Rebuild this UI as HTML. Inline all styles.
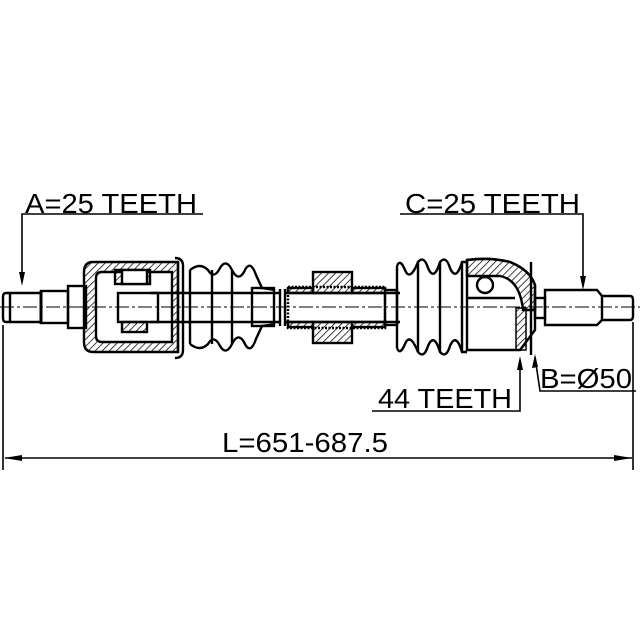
<!DOCTYPE html>
<html><head><meta charset="utf-8"><style>
html,body{margin:0;padding:0;background:#fff}
svg{display:block}
text{font-family:"Liberation Sans",sans-serif;font-size:28px;fill:#000}
</style></head><body>
<svg width="640" height="640" viewBox="0 0 640 640" xmlns="http://www.w3.org/2000/svg">
<defs>
<pattern id="h" width="5" height="5" patternUnits="userSpaceOnUse" patternTransform="rotate(45)">
<line x1="0" y1="0" x2="0" y2="5" stroke="#000" stroke-width="1.5"/></pattern>
</defs>
<g fill="none" stroke="#000" stroke-width="2.4">
<path d="M6 293 H41 V322 H6 Q3 322 3 318 V297 Q3 293 6 293Z"/>
<line x1="10" y1="293" x2="10" y2="322"/>
<line x1="41" y1="291" x2="41" y2="324" stroke-width="3"/>
<rect x="41" y="291" width="27" height="32"/>
<rect x="68" y="286" width="18" height="42"/>
<path d="M93 262 H178 V352 H93 Q84 352 84 342 V272 Q84 262 93 262Z" fill="url(#h)"/>
<path d="M102 272 H172 V342 H102 Q96 342 96 336 V278 Q96 272 102 272Z" fill="#fff"/>
<rect x="115" y="270" width="35" height="14" fill="url(#h)"/>
<rect x="122" y="270" width="25" height="14" fill="#fff"/>
<rect x="118" y="293" width="40" height="29" fill="#fff"/>
<rect x="122" y="322" width="25" height="10" fill="url(#h)"/>
<path d="M175 258 Q183 258 183 266 V350 Q183 358 175 358"/>
<line x1="178" y1="262" x2="178" y2="352"/>
<path d="M190 270 Q200 262 208 270 Q214 280 220 268 Q226 258 232 270 Q238 282 244 272 Q250 258 256 275 L262 288 L275 290"/>
<path d="M190 344 Q200 352 208 344 Q214 334 220 346 Q226 356 232 344 Q238 332 244 342 Q250 356 256 339 L262 326 L275 324"/>
<line x1="190" y1="270" x2="190" y2="344"/>
<line x1="212" y1="270" x2="212" y2="344"/><line x1="232" y1="270" x2="232" y2="344"/>
<rect x="252" y="288" width="22" height="38"/>
<line x1="150" y1="293" x2="280" y2="293"/><line x1="150" y1="322" x2="280" y2="322"/>
<line x1="285" y1="293" x2="400" y2="293"/><line x1="285" y1="322" x2="400" y2="322"/>
<line x1="280" y1="289" x2="280" y2="326"/><line x1="285" y1="289" x2="285" y2="326"/>
<rect x="288" y="287" width="97" height="41" stroke-dasharray="2 1.5"/>
<rect x="313" y="272" width="39" height="21" fill="url(#h)"/>
<rect x="313" y="322" width="39" height="21" fill="url(#h)"/>
<rect x="288" y="288" width="25" height="5" fill="url(#h)"/><rect x="352" y="288" width="33" height="5" fill="url(#h)"/>
<rect x="288" y="322" width="25" height="5" fill="url(#h)"/><rect x="352" y="322" width="33" height="5" fill="url(#h)"/>
<rect x="385" y="290" width="12" height="35"/>
<path d="M397 266 Q400 258 405 270 Q410 282 418 262 Q424 255 428 268 Q434 282 440 262 Q446 255 450 268 Q456 282 462 262 L467 262"/>
<path d="M397 348 Q400 356 405 344 Q410 332 418 352 Q424 359 428 346 Q434 332 440 352 Q446 359 450 346 Q456 332 462 352 L467 352"/>
<line x1="397" y1="266" x2="397" y2="348"/>
<line x1="418" y1="262" x2="418" y2="352"/><line x1="440" y1="262" x2="440" y2="352"/>
<line x1="462" y1="262" x2="462" y2="352"/>
<path d="M467 260 Q490 257 510 262 Q530 270 535 285 V330 L520 350 H467Z" fill="#fff"/>
<path d="M467 260 Q490 257 510 262 Q530 270 535 285 V310 H523 Q520 280 500 276 H467Z" fill="url(#h)"/>
<circle cx="485" cy="285" r="8"/>
<line x1="467" y1="298" x2="515" y2="298"/>
<rect x="516" y="308" width="10" height="42" fill="url(#h)" stroke-width="1.5"/>
<line x1="531" y1="262" x2="531" y2="355"/>
<rect x="535" y="298" width="10" height="20"/>
<path d="M545 290 H597 L602 296 H630 Q633 296 633 300 V316 Q633 320 630 320 H602 L597 325 H545Z"/>
<line x1="602" y1="296" x2="602" y2="320"/>
</g>
<line x1="0" y1="307" x2="640" y2="307" stroke="#000" stroke-width="1" stroke-dasharray="14 3 3 3"/>
<g stroke="#000" stroke-width="1.6" fill="none">
<polyline points="203,214 22,214 22,282"/>
<polyline points="400,214 583,214 583,286"/>
<polyline points="372,411 520,411 520,360"/>
<polyline points="636,391 540,391 535,357"/>
<line x1="633" y1="322" x2="633" y2="470"/>
<line x1="3" y1="325" x2="3" y2="470"/>
<line x1="5" y1="458" x2="632" y2="458"/>
</g>
<g fill="#000">
<polygon points="22,286 19,272 25,272"/>
<polygon points="583,290 580,276 586,276"/>
<polygon points="520,356 517,370 523,370"/>
<polygon points="535,354 532,368 538,367"/>
<polygon points="4,458 22,455 22,461"/>
<polygon points="632,458 614,455 614,461"/>
</g>
<text x="25" y="213" textLength="172" lengthAdjust="spacingAndGlyphs">A=25 TEETH</text>
<text x="405" y="213" textLength="175" lengthAdjust="spacingAndGlyphs">C=25 TEETH</text>
<text x="378" y="408" textLength="134" lengthAdjust="spacingAndGlyphs">44 TEETH</text>
<text x="540" y="388" textLength="92" lengthAdjust="spacingAndGlyphs">B=Ø50</text>
<text x="222" y="452" textLength="166" lengthAdjust="spacingAndGlyphs">L=651-687.5</text>
</svg>
</body></html>
